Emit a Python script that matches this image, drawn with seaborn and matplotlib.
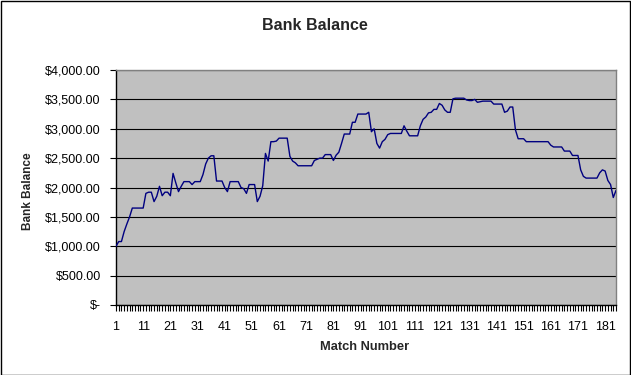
import matplotlib
matplotlib.use("Agg")
import matplotlib.pyplot as plt
import seaborn as sns
import pandas as pd
from matplotlib.patches import Rectangle
from matplotlib.ticker import FuncFormatter

balance = [
    1000, 1080, 1080, 1250, 1380, 1500, 1650, 1650, 1650, 1650,
    1650, 1900, 1920, 1920, 1760, 1850, 2020, 1860, 1920, 1920,
    1860, 2240, 2080, 1930, 2020, 2100, 2100, 2100, 2050, 2100,
    2100, 2100, 2220, 2400, 2500, 2540, 2540, 2110, 2110, 2110,
    2000, 1930, 2100, 2100, 2100, 2100, 2000, 1980, 1900, 2050,
    2050, 2050, 1760, 1850, 2030, 2580, 2450, 2780, 2780, 2790,
    2840, 2840, 2840, 2840, 2530, 2450, 2420, 2370, 2370, 2370,
    2370, 2370, 2370, 2460, 2480, 2500, 2500, 2560, 2560, 2560,
    2460, 2550, 2600, 2750, 2910, 2910, 2910, 3110, 3110, 3250,
    3250, 3250, 3250, 3280, 2950, 3000, 2750, 2670, 2780, 2820,
    2900, 2920, 2920, 2920, 2920, 2920, 3050, 2960, 2880, 2880,
    2880, 2880, 3050, 3160, 3200, 3270, 3280, 3330, 3330, 3430,
    3400, 3320, 3280, 3280, 3510, 3520, 3520, 3520, 3520, 3490,
    3480, 3480, 3500, 3450, 3460, 3470, 3470, 3470, 3470, 3420,
    3420, 3420, 3420, 3280, 3300, 3370, 3370, 2980, 2830, 2830,
    2830, 2780, 2780, 2780, 2780, 2780, 2780, 2780, 2780, 2780,
    2720, 2690, 2690, 2690, 2690, 2620, 2620, 2620, 2545, 2545,
    2545, 2300, 2190, 2160, 2160, 2160, 2160, 2160, 2250, 2300,
    2280, 2120, 2050, 1830, 1950,
]
matches = list(range(1, len(balance) + 1))
x_tick_labels = ["1", "11", "21", "31", "41", "51", "61", "71", "81", "91",
                 "101", "111", "121", "131", "141", "151", "161", "171", "181"]
y_ticks = [0, 500, 1000, 1500, 2000, 2500, 3000, 3500, 4000]

df = pd.DataFrame({"Match Number": matches, "Bank Balance": balance})

sns.set_style("white")
plt.rcParams["font.family"] = ["Liberation Sans", "DejaVu Sans"]

W, H = 631, 375
fig = plt.figure(figsize=(W / 100, H / 100), dpi=100)
fig.patch.set_facecolor("white")
ax = fig.add_axes([116 / W, 1 - 305 / H, 500 / W, 235 / H])
ax.set_facecolor("#C0C0C0")

sns.lineplot(data=df, x="Match Number", y="Bank Balance", ax=ax,
             color="#000080", linewidth=1.0, zorder=3)

ax.set_xlim(1, len(balance))
ax.set_ylim(0, 4000)
ax.set_yticks(y_ticks)
ax.yaxis.set_major_formatter(FuncFormatter(lambda v, p: "$-" if v == 0 else "${:,.2f}".format(v)))
ax.set_xticks(matches)
lab = {int(t): t for t in x_tick_labels}
ax.set_xticklabels([lab.get(m, "") for m in matches])

ax.grid(axis="y", color="black", linewidth=0.8)
ax.set_axisbelow(True)
ax.tick_params(axis="both", direction="out", length=4, width=0.8, color="black",
               labelsize=9, labelcolor="black", bottom=True, left=True)
ax.tick_params(axis="y", pad=7)
ax.tick_params(axis="x", pad=7.5)

for s in ["left", "bottom"]:
    ax.spines[s].set_color("black")
    ax.spines[s].set_linewidth(1.0)
for s in ["top", "right"]:
    ax.spines[s].set_color("#808080")
    ax.spines[s].set_linewidth(1.0)

ax.set_xlabel("")
ax.set_ylabel("")
fig.text(314.5 / W, 1 - 25.5 / H, "Bank Balance", ha="center", va="center",
         fontsize=11.5, fontweight="bold")
fig.text(28 / W, 1 - 191 / H, "Bank Balance", ha="center", va="center",
         rotation=90, fontsize=8.5, fontweight="bold")
fig.text(365 / W, 1 - 347.5 / H, "Match Number", ha="center", va="center",
         fontsize=9.3, fontweight="bold")

fig.patches.append(Rectangle((0.5 / W, 0.5 / H), 1 - 1.5 / W, 1 - 1.5 / H,
                             transform=fig.transFigure, fill=False,
                             edgecolor="black", linewidth=1.0))

fig.savefig("out.png", dpi=100)
